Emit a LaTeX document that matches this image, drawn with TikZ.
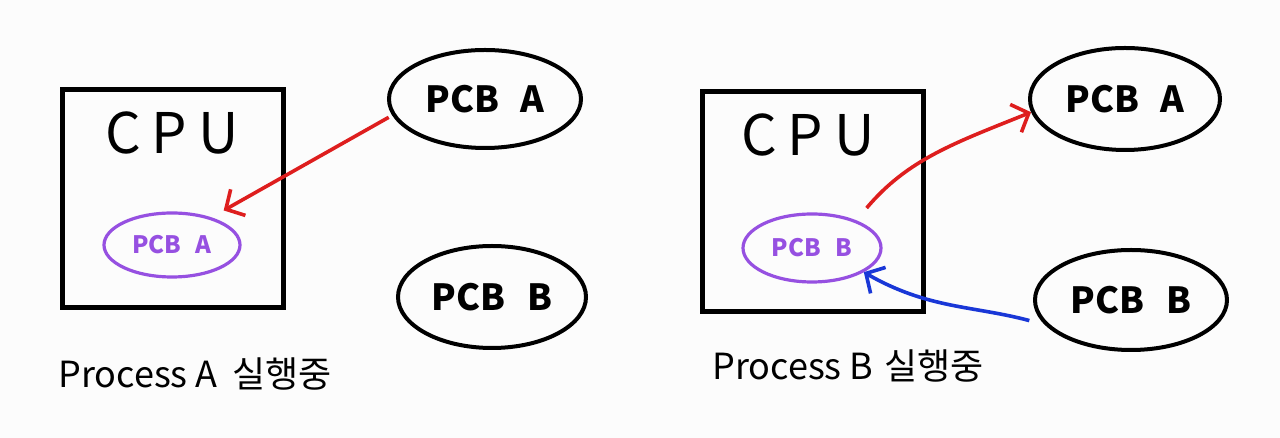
\documentclass[tikz,border=0pt]{standalone}
\usepackage{fontspec}
\setmainfont{Noto Sans CJK KR}
\usetikzlibrary{shapes.geometric,arrows.meta}
\definecolor{penred}{RGB}{222,30,30}
\definecolor{penpurple}{RGB}{150,80,225}
\definecolor{penblue}{RGB}{25,55,215}
\definecolor{paper}{RGB}{252,252,252}
\begin{document}
\begin{tikzpicture}[x=0.5pt,y=0.5pt,
  cpubox/.style={draw=black,line width=2.5pt,minimum width=110.5pt,minimum height=109pt,inner sep=0pt},
  pcb/.style={ellipse,draw=black,line width=2pt,inner sep=0pt,font=\fontsize{18}{20}\selectfont\bfseries},
  running/.style={ellipse,draw=penpurple,line width=1.6pt,text=penpurple,minimum width=68pt,minimum height=32pt,inner sep=0pt,font=\fontsize{12}{14}\selectfont\bfseries},
  cputext/.style={font=\fontsize{28}{32}\selectfont},
  caption/.style={anchor=west,inner sep=0pt,font=\fontsize{18}{22}\selectfont},
  switch/.style={line width=1.8pt,-{Straight Barb[length=7pt,width=15pt,line width=1.8pt]}},
]
\useasboundingbox[fill=paper] (0,0) rectangle (1280,438);

% ---------- left panel ----------
\node[cpubox] (cpuA) at (172.5,239.5) {};
\node[cputext] (cpuAtext) at (172,305) {C\hspace{0.2em}P\hspace{0.2em}U};
\node[running] (runA) at (172,193) {PCB\hspace{0.6em}A};
\node[pcb,minimum width=96pt,minimum height=49pt] (pcbA1) at (485,339) {PCB\hspace{0.6em}A};
\node[pcb,minimum width=94pt,minimum height=51pt] (pcbB1) at (492,141) {PCB\hspace{0.6em}B};
\node[caption] (capA) at (58,64) {Process A\hspace{0.4em}실행중};
\draw[switch,penred,shorten <=2pt,shorten >=7pt] (pcbA1.190) -- (runA.35);

% ---------- right panel ----------
\node[cpubox,minimum height=110pt] (cpuB) at (812.5,236) {};
\node[cputext] (cpuBtext) at (808,303) {C\hspace{0.2em}P\hspace{0.2em}U};
\node[running,minimum width=69pt,minimum height=34pt] (runB) at (812,190) {PCB\hspace{0.6em}B};
\node[pcb,minimum width=95pt,minimum height=51pt] (pcbA2) at (1125,339) {PCB\hspace{0.6em}A};
\node[pcb,minimum width=96pt,minimum height=50pt] (pcbB2) at (1131,138) {PCB\hspace{0.6em}B};
\node[caption] (capB) at (712,72) {Process B\hspace{0.3em}실행중};
\draw[switch,penred,shorten <=8pt] (runB.32) to[out=50,in=202] (pcbA2.188);
\draw[switch,penblue,shorten <=8pt] (pcbB2.196) to[out=165,in=-30] (runB.-25);
\end{tikzpicture}
\end{document}
